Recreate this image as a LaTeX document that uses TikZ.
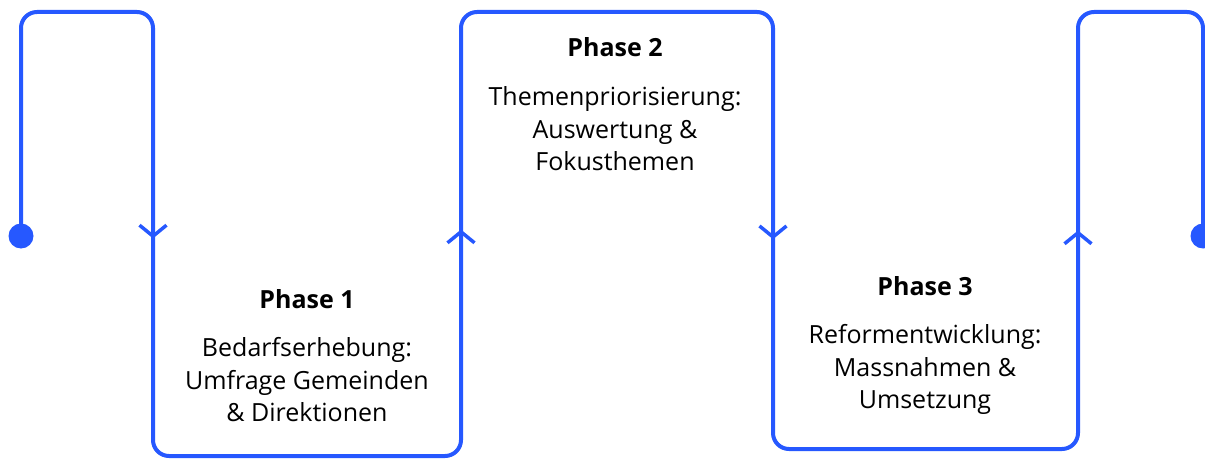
\documentclass[tikz,border=0pt]{standalone}
\usepackage{fontspec}
\setmainfont{Open Sans}
\usetikzlibrary{arrows.meta,decorations.markings}
\usetikzlibrary{positioning}
\definecolor{flowblue}{RGB}{38,88,255}

\begin{document}
\begin{tikzpicture}[x=1pt, y=-1pt,
    flow/.style={draw=flowblue, line width=4pt, rounded corners=16pt},
    midarrow/.style={postaction={decorate}, decoration={markings, mark=at position #1 with {\arrow[color=flowblue, line width=3.5pt]{Straight Barb[length=11pt, width=27pt]}}}},
    dot/.style={circle, fill=flowblue, inner sep=0pt, minimum size=25pt},
    title/.style={font=\fontsize{25}{30}\selectfont\bfseries, inner sep=0pt},
    desc/.style={font=\fontsize{25}{32.5}\selectfont, align=center, inner sep=0pt},
    every node/.style={node distance=29pt}
    ]
    \useasboundingbox (0,0) rectangle (1205,460);
    
    % start and end of the line
    \node[dot] (start) at (21,236) {};
    \node[dot] (end) at (1203,236) {};
    
    % corners of the line
    \foreach \name/\px/\py in {a/21/12, b/153/12, c/153/456, d/461/456, e/461/12, f/773/12, g/773/449, h/1078/449, i/1078/12, j/1203/12} {
        \coordinate (\name) at (\px,\py);
    }
    
    \draw[flow] (start.center) -- (a) -- (b) -- (c) -- (d) -- (e) -- (f) -- (g) -- (h) -- (i) -- (j) -- (end.center);
    
    % arrows halfway down and up
    \path[midarrow=0.51] (b) -- (c);
    \path[midarrow=0.51] (d) -- (e);
    \path[midarrow=0.52] (f) -- (g);
    \path[midarrow=0.50] (h) -- (i);
    
    % phase texts
    \foreach \n/\px/\py/\txt in {1/307/308/{Bedarfserhebung:\\Umfrage Gemeinden\\\& Direktionen},
        2/615/57/{Themenpriorisierung:\\Auswertung \&\\Fokusthemen},
        3/925/295/{Reformentwicklung:\\Massnahmen \&\\Umsetzung}} {
        \node[title, anchor=base] (t\n) at (\px,\py) {Phase \n};
        \node[desc, below=of t\n] (d\n) {\txt};
    }
    
\end{tikzpicture}
\end{document}
